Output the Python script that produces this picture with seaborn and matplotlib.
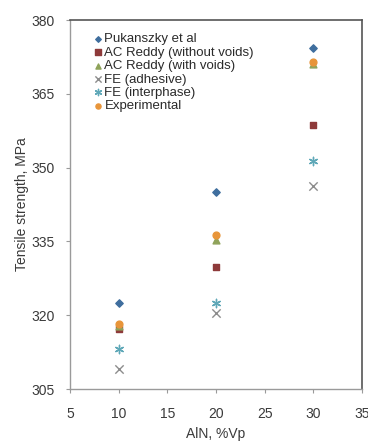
import matplotlib
matplotlib.use("Agg")
import matplotlib.pyplot as plt
import seaborn as sns

# filler content (%Vp)
aln = [10, 20, 30]

# tensile strength, MPa
pukanszky = [322.4, 345.0, 374.3]
reddy_no_voids = [317.1, 329.8, 358.7]
reddy_voids = [317.8, 335.2, 371.1]
fe_adhesive = [309.0, 320.5, 346.3]
fe_interphase = [313.1, 322.4, 351.4]
experimental = [318.2, 336.2, 371.5]

series = [
    ("Pukanszky et al", pukanszky, "D", "#3F6E9E", 14),
    ("AC Reddy (without voids)", reddy_no_voids, "s", "#8E3A3A", 24),
    ("AC Reddy (with voids)", reddy_voids, "^", "#8FA35A", 24),
    ("FE (adhesive)", fe_adhesive, "x", "#8C8C8C", 36),
    ("FE (interphase)", fe_interphase, (6, 2, 0), "#5FA8B8", 36),
    ("Experimental", experimental, "o", "#E8953A", 24),
]

sns.set_style("white")
plt.rcParams["font.family"] = ["Liberation Sans", "DejaVu Sans"]

fig = plt.figure(figsize=(3.68, 4.46), dpi=100)
ax = fig.add_axes([70 / 368, 1 - 389 / 446, 292 / 368, 369 / 446])

for name, vals, mk, col, sz in series:
    sns.scatterplot(x=aln, y=vals, marker=mk, color=col, s=sz, label=name,
                    ax=ax, edgecolor=col if mk not in ("x", (6, 2, 0)) else None,
                    linewidth=1.0)

ax.set_xlim(5, 35)
ax.set_ylim(305, 380)
ax.set_xticks(range(5, 36, 5))
ax.set_yticks(range(305, 381, 15))
ax.tick_params(axis="both", labelsize=10, colors="#3A3A3A", length=3,
               direction="out", bottom=True, left=True)
ax.tick_params(axis="x", pad=10)
ax.tick_params(axis="y", pad=8)
ax.tick_params(axis="both", color="#9A9A9A")
ax.set_xlabel("AlN, %Vp", fontsize=10, color="#3A3A3A", labelpad=4)
ax.set_ylabel("Tensile strength, MPa", fontsize=10, color="#3A3A3A",
              labelpad=2)

for side in ["left", "bottom"]:
    ax.spines[side].set_color("#9A9A9A")
    ax.spines[side].set_linewidth(1.0)
for side in ["top", "right"]:
    ax.spines[side].set_color("#555555")
    ax.spines[side].set_linewidth(1.2)

leg = ax.legend(loc="upper left", frameon=False, fontsize=9.5,
                handletextpad=0.05, labelspacing=0.085, borderaxespad=0.6,
                handlelength=0.9, markerscale=0.75,
                bbox_to_anchor=(0.03, 1.0))
for t in leg.get_texts():
    t.set_color("#2A2A2A")

fig.savefig("out.png", dpi=100)
